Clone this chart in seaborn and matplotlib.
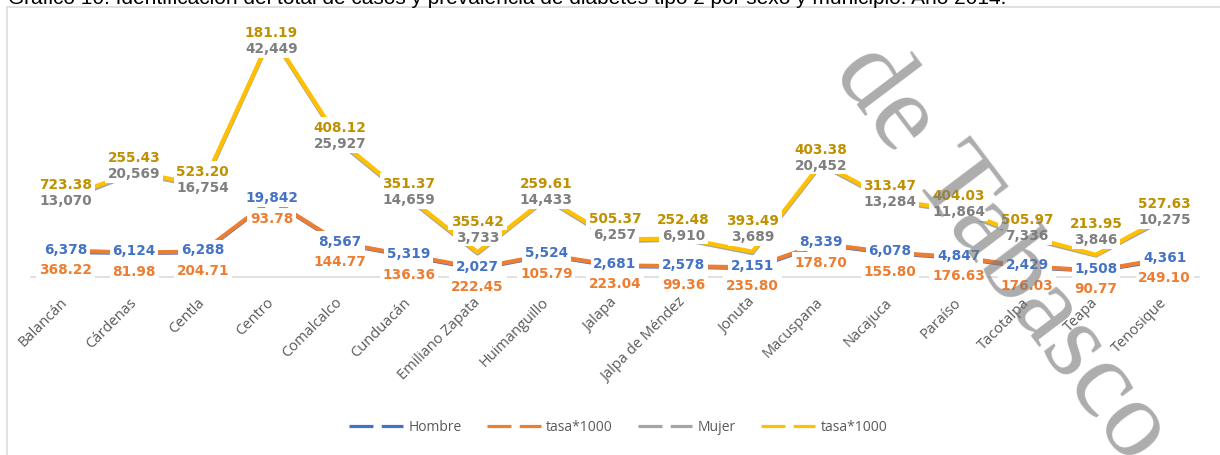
import numpy as np
import pandas as pd
import matplotlib
matplotlib.use("Agg")
import matplotlib.pyplot as plt
import seaborn as sns
from matplotlib.lines import Line2D
from matplotlib.patches import Rectangle
from matplotlib.font_manager import FontProperties

# --- data -------------------------------------------------------------------
municipios = ["Balancán", "Cárdenas", "Centla", "Centro", "Comalcalco", "Cunduacán",
              "Emiliano Zapata", "Huimanguillo", "Jalapa", "Jalpa de Méndez", "Jonuta",
              "Macuspana", "Nacajuca", "Paraíso", "Tacotalpa", "Teapa", "Tenosique"]
hombre = [6378, 6124, 6288, 19842, 8567, 5319, 2027, 5524, 2681, 2578, 2151,
          8339, 6078, 4847, 2429, 1508, 4361]
tasa_hombre = [368.22, 81.98, 204.71, 93.78, 144.77, 136.36, 222.45, 105.79, 223.04,
               99.36, 235.80, 178.70, 155.80, 176.63, 176.03, 90.77, 249.10]
mujer = [13070, 20569, 16754, 42449, 25927, 14659, 3733, 14433, 6257, 6910, 3689,
         20452, 13284, 11864, 7336, 3846, 10275]
tasa_mujer = [723.38, 255.43, 523.20, 181.19, 408.12, 351.37, 355.42, 259.61, 505.37,
              252.48, 393.49, 403.38, 313.47, 404.03, 505.97, 213.95, 527.63]
nombres_serie = ["Hombre", "tasa*1000", "Mujer", "tasa*1000"]

titulo = ("Gráfico 10. Identificación del total de casos y prevalencia de diabetes "
          "tipo 2 por sexo y municipio. Año 2014.")

# --- styling ----------------------------------------------------------------
sns.set_style("white")
plt.rcParams["font.family"] = ["DejaVu Sans"]
plt.rcParams["font.serif"] = ["Liberation Serif", "DejaVu Serif"]

claves = ["hombre", "tasa_h", "mujer", "tasa_m"]
colores_linea = ["#4472C4", "#ED7D31", "#A5A5A5", "#FFC000"]
colores_texto = ["#4472C4", "#ED7D31", "#7F7F7F", "#BF9000"]

# stacked line chart: each series sits on top of the previous ones
valores = np.array([hombre, tasa_hombre, mujer, tasa_mujer], dtype=float)
acum = np.cumsum(valores, axis=0)
n = len(municipios)
pos = np.arange(n)

df = pd.concat([
    pd.DataFrame({"pos": pos, "municipio": municipios, "serie": k, "acumulado": acum[j]})
    for j, k in enumerate(claves)
], ignore_index=True)

W, H = 1220, 456
fig = plt.figure(figsize=(W / 100, H / 100), dpi=100)
fig.patch.set_facecolor("white")

# plot area in pixels
x0_px, x1_px = 31.0, 1199.0
yb_px, yt_px = 277.6, 7.4
ymax = 70000
ax = fig.add_axes([x0_px / W, 1 - yb_px / H, (x1_px - x0_px) / W, (yb_px - yt_px) / H])
ax.set_xlim(-0.5, n - 0.5)
ax.set_ylim(0, ymax)

sns.lineplot(data=df, x="pos", y="acumulado", hue="serie", hue_order=claves,
             palette=dict(zip(claves, colores_linea)), linewidth=3.0,
             estimator=None, sort=False, legend=False, ax=ax)
for ln in ax.lines:
    ln.set_solid_capstyle("butt")

# axes cosmetics
for s in ["left", "top", "right"]:
    ax.spines[s].set_visible(False)
ax.spines["bottom"].set_color("#D9D9D9")
ax.spines["bottom"].set_linewidth(1.1)
ax.set_yticks([])
ax.set_xlabel("")
ax.set_ylabel("")
ax.set_xticks(pos)
ax.set_xticklabels(municipios, rotation=45, ha="right", va="center",
                   rotation_mode="anchor", fontsize=10.5, family="Open Sans",
                   color="#595959")
ax.tick_params(axis="x", length=0, pad=16.5)

# --- data labels --------------------------------------------------------------
ppu = (yb_px - yt_px) / ymax  # pixels per data unit


def to_px(v):
    return yb_px - v * ppu


def to_data(p):
    return (yb_px - p) / ppu


caja = dict(boxstyle="square,pad=0.2", fc="white", ec="none")
for i in range(n):
    y_h = to_px(acum[0, i]) - 3
    y_th = to_px(acum[1, i]) + 18
    y_m = to_px(acum[2, i])
    if y_h - y_m < 29:
        y_m = y_h - 29
    y_tm = y_m - 16
    if y_tm < yt_px + 26:
        y_tm = yt_px + 26
        y_m = y_tm + 16
    textos = [f"{hombre[i]:,}", f"{tasa_hombre[i]:.2f}", f"{mujer[i]:,}", f"{tasa_mujer[i]:.2f}"]
    ys = [y_h, y_th, y_m, y_tm]
    for j in range(4):
        ax.text(i, to_data(ys[j]), textos[j], ha="center", va="center",
                fontsize=9.8, fontweight="bold", color=colores_texto[j],
                bbox=caja, zorder=6, clip_on=False)

# --- legend -------------------------------------------------------------------
handles = [Line2D([0], [0], color=c, lw=2.3, linestyle=(0, (7.5, 2.6)))
           for c in colores_linea]
fig.legend(handles, nombres_serie, loc="center", bbox_to_anchor=(618 / W, 1 - 428 / H),
           ncol=4, frameon=False, handlelength=3.9, handletextpad=0.4,
           columnspacing=1.8, prop=FontProperties(family="Open Sans", size=10),
           labelcolor="#595959")

# --- frame, title and watermark -----------------------------------------------
fig.patches.append(Rectangle((7 / W, -0.2), 1.2, 1.2 - 8 / H, transform=fig.transFigure,
                             fill=False, ec="#D9D9D9", lw=1.1, zorder=0))
fig.text(8 / W, 1 - 4 / H, titulo, ha="left", va="baseline", fontsize=15,
         family="Liberation Sans", color="black")
fig.text(832 / W, 1 - 72 / H, "de Tabasco", rotation=-53, rotation_mode="anchor",
         ha="left", va="baseline", color="#7a7a7a", alpha=0.62, zorder=10,
         fontproperties=FontProperties(family="serif", size=80))

fig.savefig("out.png", dpi=100, facecolor="white")
